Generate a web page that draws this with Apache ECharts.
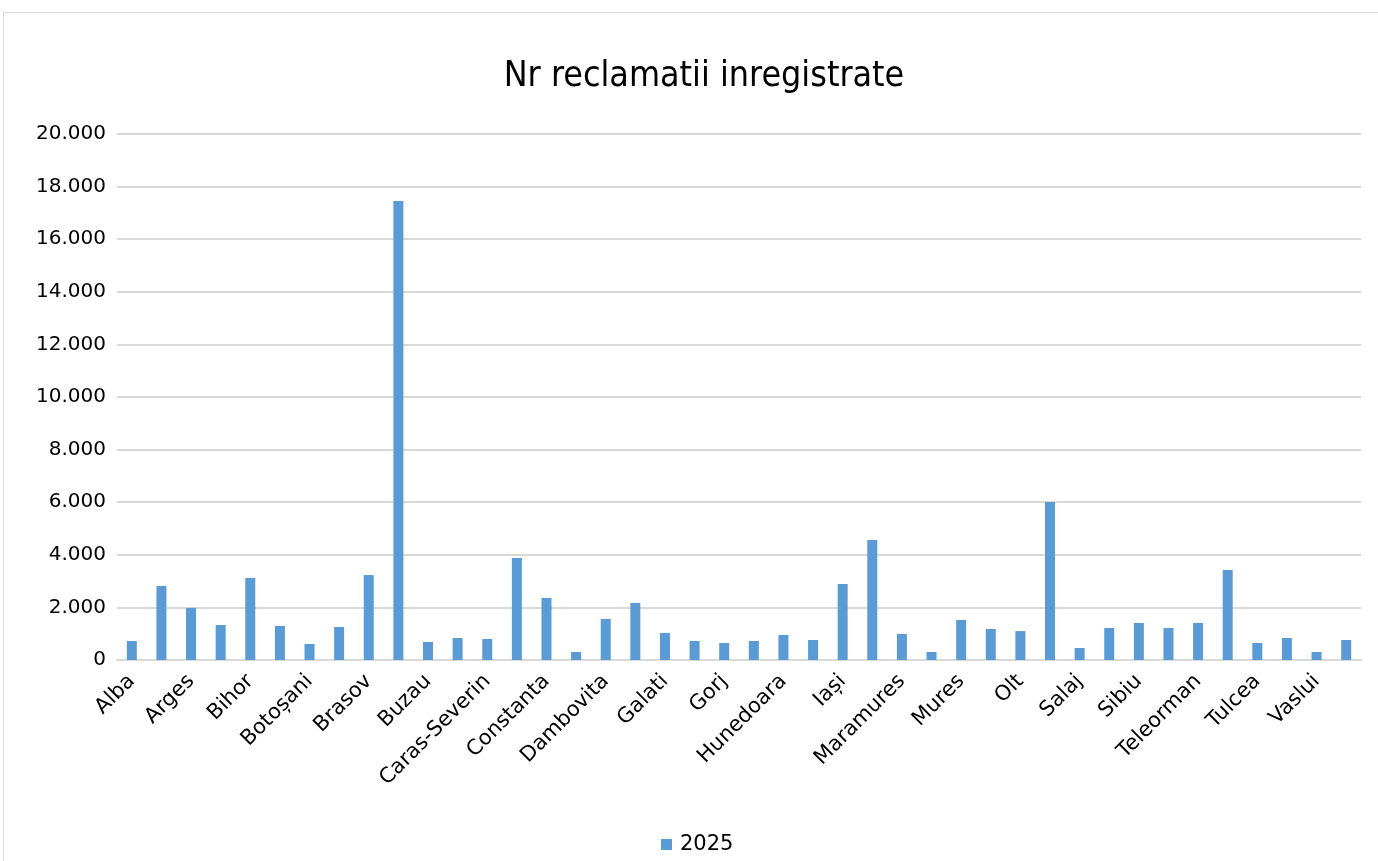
<!DOCTYPE html>
<html>
<head>
<meta charset="utf-8">
<script src="https://cdn.jsdelivr.net/npm/echarts@6/dist/echarts.min.js"></script>
<style>
html,body{margin:0;padding:0;background:#fff;}
#frame{position:absolute;left:3px;top:12px;width:1400px;height:900px;border:1px solid #d9d9d9;box-sizing:border-box;}
#chart{position:absolute;left:0;top:0;width:1378px;height:861px;}
</style>
</head>
<body>
<div id="frame"></div>
<div id="chart"></div>
<script>
const categories = ["Alba","Arad","Arges","Bacau","Bihor","Bistrita-Nasaud","Botoșani","Braila","Brasov","Bucuresti","Buzau","Calarasi","Caras-Severin","Cluj","Constanta","Covasna","Dambovita","Dolj","Galati","Giurgiu","Gorj","Harghita","Hunedoara","Ialomita","Iași","Ilfov","Maramures","Mehedinti","Mures","Neamt","Olt","Prahova","Salaj","Satu Mare","Sibiu","Suceava","Teleorman","Timis","Tulcea","Valcea","Vaslui","Vrancea"];
const values2025 = [722,2815,1980,1330,3120,1295,610,1255,3230,17450,685,835,800,3880,2360,305,1560,2170,1030,722,646,722,950,760,2890,4560,990,305,1520,1180,1100,6010,456,1216,1406,1216,1406,3420,646,836,305,760];
const seriesName = "2025";
const titleText = "Nr reclamatii inregistrate";

const chart = echarts.init(document.getElementById('chart'), null, {renderer:'canvas'});
const fnt = "Tahoma, 'DejaVu Sans', Verdana, sans-serif";
chart.setOption({
  animation:false,
  backgroundColor:'transparent',
  title:{text:titleText,left:699,textAlign:'center',top:54,textStyle:{fontFamily:"'Liberation Sans Narrow','DejaVu Sans Condensed',sans-serif",fontWeight:'normal',fontSize:35.5,color:'#000'}},
  grid:{left:117,right:17,top:134,bottom:201},
  legend:{top:829,left:656,itemWidth:11,itemHeight:11,icon:'rect',textStyle:{fontFamily:fnt,fontSize:21,color:'#000',padding:[0,0,0,3]},data:[seriesName]},
  xAxis:{type:'category',data:categories,
    axisLine:{lineStyle:{color:'#d9d9d9',width:2}},
    axisTick:{show:false},
    axisLabel:{interval:1,rotate:45,fontFamily:fnt,fontSize:21,color:'#000',margin:18}},
  yAxis:{type:'value',min:0,max:20000,interval:2000,
    axisLine:{show:false},axisTick:{show:false},
    splitLine:{lineStyle:{color:'#d9d9d9',width:2}},
    axisLabel:{fontFamily:fnt,fontSize:20,color:'#000',margin:11,
      formatter:v=>String(v).replace(/\B(?=(\d{3})+(?!\d))/g,'.')}},
  series:[{name:seriesName,type:'bar',data:values2025,barWidth:10,itemStyle:{color:'#5b9bd5'}}]
});
</script>
</body>
</html>
